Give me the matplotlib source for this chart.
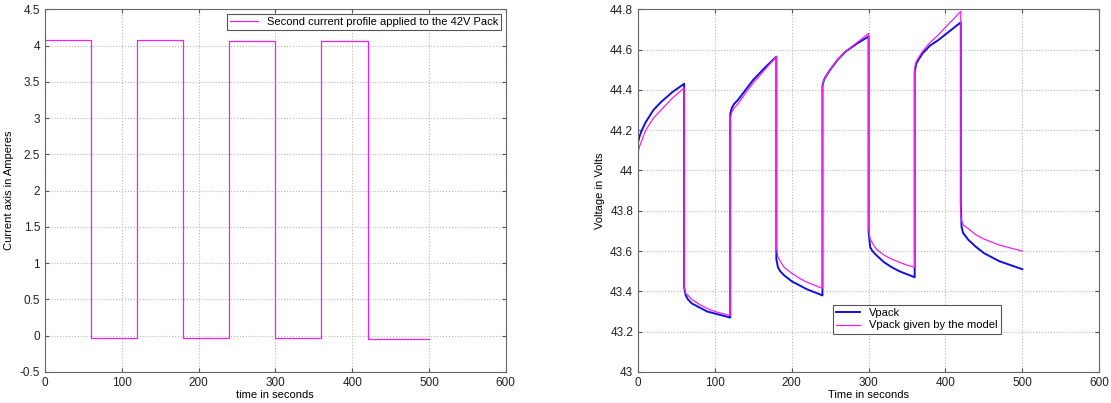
import matplotlib.pyplot as plt
import numpy as np

plt.rcParams['font.family'] = ['Liberation Sans', 'DejaVu Sans']
plt.rcParams['font.size'] = 8

# current profile: 60 s pulses, levels read per segment
seg_edges = [0, 60, 120, 180, 240, 300, 360, 420, 500]
seg_current = [4.07, -0.03, 4.07, -0.035, 4.065, -0.03, 4.065, -0.04]

# measured pack voltage and model output (time, volts)
t_v = [0, 2, 5, 10, 20, 30, 45, 60,
       60, 62, 65, 70, 80, 90, 100, 110, 120,
       120, 122, 125, 130, 140, 150, 165, 180,
       180, 182, 185, 190, 200, 210, 220, 230, 240,
       240, 242, 245, 250, 260, 270, 285, 300,
       300, 302, 305, 310, 320, 330, 340, 350, 360,
       360, 362, 365, 370, 380, 390, 405, 420,
       420, 421, 423, 430, 440, 450, 460, 470, 485, 500]
v_pack = [44.14, 44.17, 44.20, 44.24, 44.30, 44.34, 44.39, 44.43,
          43.42, 43.38, 43.36, 43.34, 43.32, 43.30, 43.29, 43.28, 43.27,
          44.28, 44.31, 44.33, 44.35, 44.40, 44.45, 44.51, 44.565,
          43.56, 43.52, 43.50, 43.48, 43.45, 43.43, 43.41, 43.395, 43.38,
          44.42, 44.45, 44.47, 44.50, 44.55, 44.59, 44.63, 44.665,
          43.70, 43.62, 43.60, 43.58, 43.545, 43.52, 43.50, 43.485, 43.47,
          44.49, 44.53, 44.55, 44.58, 44.62, 44.645, 44.69, 44.735,
          43.84, 43.72, 43.69, 43.655, 43.62, 43.59, 43.57, 43.55, 43.53, 43.51]
v_model = [44.09, 44.12, 44.15, 44.20, 44.26, 44.30, 44.36, 44.41,
           43.42, 43.39, 43.38, 43.36, 43.335, 43.315, 43.30, 43.29, 43.28,
           44.26, 44.29, 44.31, 44.33, 44.385, 44.435, 44.50, 44.565,
           43.62, 43.57, 43.55, 43.52, 43.49, 43.465, 43.445, 43.43, 43.415,
           44.42, 44.45, 44.47, 44.50, 44.55, 44.59, 44.635, 44.68,
           43.71, 43.66, 43.64, 43.61, 43.58, 43.56, 43.545, 43.53, 43.52,
           44.51, 44.54, 44.56, 44.59, 44.635, 44.67, 44.73, 44.79,
           43.78, 43.75, 43.73, 43.71, 43.68, 43.66, 43.645, 43.63, 43.615, 43.60]

t_i = []
i_pack = []
for k, lvl in enumerate(seg_current):
    t_i += [seg_edges[k], seg_edges[k + 1]]
    i_pack += [lvl, lvl]

fig = plt.figure(figsize=(11.11, 4.03), dpi=100)
ax1 = fig.add_axes([0.0405, 0.077, 0.4147, 0.900])
ax2 = fig.add_axes([0.5743, 0.077, 0.4150, 0.900])


def matlab_style(ax):
    ax.grid(True, linestyle=':', color='#b8b8b8', linewidth=0.8)
    ax.tick_params(direction='in', length=3, color='#555555', labelcolor='#222222',
                   labelsize=8.5, top=True, right=True,
                   labeltop=False, labelright=False)
    for s in ax.spines.values():
        s.set_color('#666666')
        s.set_linewidth(0.8)


ax1.plot(t_i, i_pack, color='#f020f0', lw=0.9,
         label='Second current profile applied to the 42V Pack')
ax1.set_xlim(0, 600)
ax1.set_ylim(-0.5, 4.5)
ax1.set_xticks(np.arange(0, 601, 100))
ax1.set_yticks(np.arange(-0.5, 4.51, 0.5))
ax1.set_yticklabels(['%g' % v for v in np.arange(-0.5, 4.51, 0.5)])
ax1.set_xlabel('time in seconds', labelpad=1)
ax1.set_ylabel('Current axis in Amperes', labelpad=4)
matlab_style(ax1)
leg1 = ax1.legend(loc='upper right', fancybox=False, edgecolor='#555555',
                  framealpha=1, borderaxespad=0.4, handlelength=2.5,
                  borderpad=0.3)
leg1.get_frame().set_linewidth(0.8)

ax2.plot(t_v, v_pack, color='#1010e0', lw=1.4, label='Vpack')
ax2.plot(t_v, v_model, color='#f020f0', lw=0.9, label='Vpack given by the model')
ax2.set_xlim(0, 600)
ax2.set_ylim(43, 44.8)
ax2.set_xticks(np.arange(0, 601, 100))
yt = np.round(np.arange(43, 44.81, 0.2), 1)
ax2.set_yticks(yt)
ax2.set_yticklabels(['%g' % v for v in yt])
ax2.set_xlabel('Time in seconds', labelpad=1)
ax2.set_ylabel('Voltage in Volts', labelpad=4)
matlab_style(ax2)
leg2 = ax2.legend(loc='lower left', bbox_to_anchor=(0.41, 0.09), fancybox=False,
                  edgecolor='#555555', framealpha=1, handlelength=2.2,
                  borderpad=0.3, labelspacing=0.2)
leg2.get_frame().set_linewidth(0.8)

fig.savefig('out.png', dpi=100)
